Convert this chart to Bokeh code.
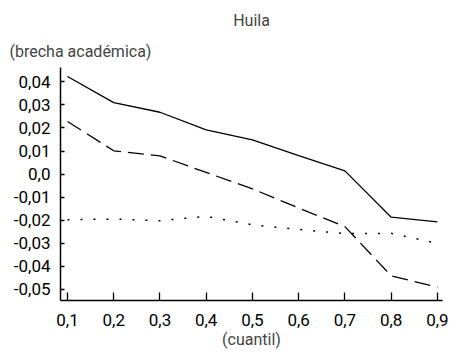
from bokeh.plotting import figure
from bokeh.models import Title, FixedTicker, Range1d
from bokeh.embed import file_html
from bokeh.resources import INLINE

quantiles = [0.1, 0.2, 0.3, 0.4, 0.5, 0.6, 0.7, 0.8, 0.9]
solid_vals = [0.0423, 0.0310, 0.0268, 0.0192, 0.0148, 0.0080, 0.0014, -0.0187, -0.0207]
dashed_vals = [0.0228, 0.0101, 0.0079, 0.0007, -0.0064, -0.0147, -0.0228, -0.0441, -0.0490]
dotted_vals = [-0.0198, -0.0195, -0.0202, -0.0183, -0.0220, -0.0240, -0.0258, -0.0257, -0.0300]
y_ticks = [0.04, 0.03, 0.02, 0.01, 0.0, -0.01, -0.02, -0.03, -0.04, -0.05]
y_tick_labels = ["0,04", "0,03", "0,02", "0,01", "0,0", "-0,01", "-0,02", "-0,03", "-0,04", "-0,05"]
x_tick_labels = ["0,1", "0,2", "0,3", "0,4", "0,5", "0,6", "0,7", "0,8", "0,9"]

FONT = "Roboto"

p = figure(width=453, height=360, output_backend="svg", toolbar_location=None,
           x_range=Range1d(0.0849, 0.911), y_range=Range1d(-0.0548, 0.0462),
           min_border_left=60, min_border_right=11, min_border_top=67, min_border_bottom=60)
p.outline_line_color = None
p.grid.grid_line_color = None
p.background_fill_color = "white"
p.border_fill_color = "white"

p.title.text = "Huila"
p.title.align = "center"
p.title.text_font = FONT
p.title.text_font_size = "16px"
p.title.text_font_style = "normal"
p.title.standoff = 8

sub = Title(text="(brecha académica)", align="left", offset=-51, text_font=FONT,
            text_font_size="16px", text_font_style="normal", standoff=13)
p.add_layout(sub, "above")

p.line(quantiles, solid_vals, line_color="black", line_width=1.3)
p.line(quantiles, dashed_vals, line_color="black", line_width=1.3, line_dash="16 7")
p.line(quantiles, dotted_vals, line_color="black", line_width=1.5, line_dash="2 11")

p.xaxis.ticker = FixedTicker(ticks=quantiles)
p.xaxis.major_label_overrides = {q: l for q, l in zip(quantiles, x_tick_labels)}
p.yaxis.ticker = FixedTicker(ticks=y_ticks)
p.yaxis.major_label_overrides = {t: l for t, l in zip(y_ticks, y_tick_labels)}

p.xaxis.axis_label = "(cuantil)"
p.xaxis.axis_label_text_font = FONT
p.xaxis.axis_label_text_font_size = "16px"
p.xaxis.axis_label_text_font_style = "normal"
p.xaxis.axis_label_standoff = 1

for ax in (p.xaxis, p.yaxis):
    ax.axis_line_color = "black"
    ax.axis_line_width = 1.5
    ax.major_tick_line_color = "black"
    ax.major_tick_line_width = 1.3
    ax.minor_tick_line_color = None
    ax.major_tick_out = 0
    ax.major_label_text_font = FONT
    ax.major_label_text_font_size = "17px"
    ax.major_label_text_color = "black"

p.xaxis.major_tick_in = 8
p.yaxis.major_tick_in = 4
p.xaxis.major_label_standoff = 13
p.yaxis.major_label_standoff = 10

open("out.html", "w").write(file_html(p, INLINE))
